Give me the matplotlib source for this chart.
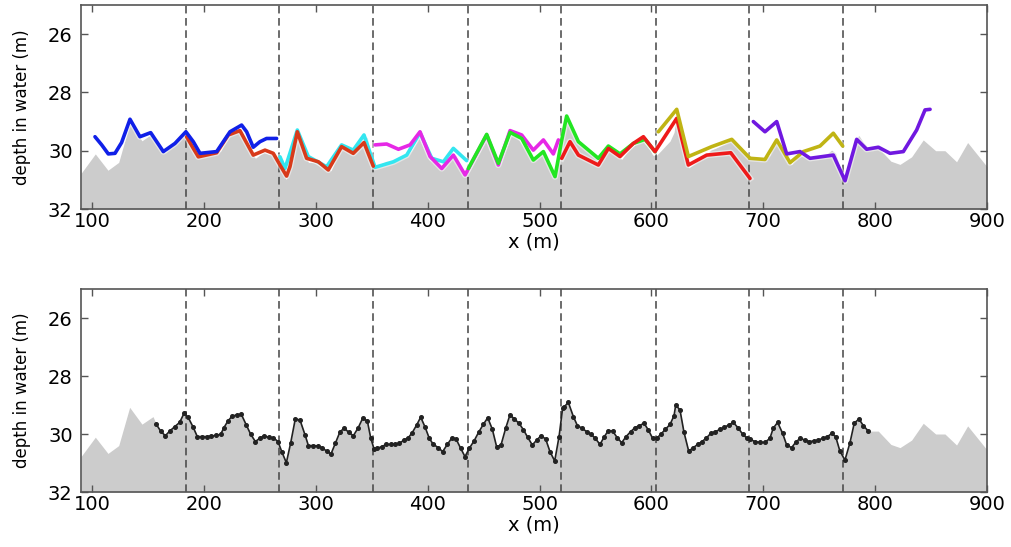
import numpy as np
import matplotlib
matplotlib.use("Agg")
import matplotlib.pyplot as plt

# seabed outside the merged profile
bed_left_x = [90, 102.8, 114.1, 123.7, 133.5, 144.5, 154.4]
bed_left_z = [30.78, 30.11, 30.67, 30.40, 29.08, 29.66, 29.40]
bed_right_x = [802.8, 814.1, 822.2, 832.6, 843.0, 854.1, 862.4, 872.8, 882.7, 898.8, 900]
bed_right_z = [29.90, 30.36, 30.47, 30.21, 29.63, 30.00, 30.00, 30.38, 29.72, 30.49, 30.55]

# merged depth profile (dots)
merged_x = [157.4, 161.2, 165.4, 169.3, 173.7, 178.2, 182.1, 185.7, 190.1, 194.0,
            198.2, 202.3, 206.5, 210.7, 214.9, 217.8, 221.4, 225.0, 229.2, 233.3,
            237.8, 241.7, 245.9, 249.7, 253.6, 257.8, 262.0, 266.1, 269.7, 273.6,
            277.4, 281.6, 285.8, 290.3, 293.3, 297.7, 301.6, 305.5, 309.6, 313.5,
            317.4, 321.6, 325.4, 329.3, 333.5, 337.9, 341.8, 346.0, 349.0, 352.0,
            354.9, 358.8, 362.7, 366.8, 370.7, 374.6, 378.8, 382.6, 386.2, 390.1,
            393.7, 397.5, 401.4, 405.0, 409.5, 413.3, 417.5, 421.7, 425.3, 429.4,
            433.3, 437.2, 441.4, 445.5, 449.7, 453.6, 457.7, 461.6, 465.5, 469.7,
            473.5, 477.4, 481.6, 485.5, 489.3, 493.5, 497.4, 501.3, 505.4, 509.3,
            513.5, 517.4, 520.6, 522.1, 525.7, 530.2, 533.8, 537.9, 542.1, 546.0,
            549.8, 554.0, 557.9, 561.5, 565.3, 569.5, 573.4, 577.3, 581.4, 585.3,
            589.2, 593.4, 597.2, 601.1, 604.7, 608.3, 612.4, 616.6, 620.2, 621.7,
            625.5, 629.1, 633.3, 637.5, 641.3, 645.2, 648.8, 653.0, 657.1, 661.3,
            665.2, 669.0, 673.2, 677.7, 681.6, 685.7, 688.1, 692.5, 697.0, 701.5,
            705.9, 708.9, 712.8, 717.3, 720.9, 725.3, 728.9, 732.8, 737.2, 741.1,
            745.3, 749.2, 753.0, 757.2, 761.1, 764.7, 768.5, 773.0, 777.5, 781.3,
            785.5, 789.4, 793.9]
merged_z = [29.67, 29.90, 30.06, 29.90, 29.75, 29.60, 29.29, 29.42, 29.75, 30.09,
            30.09, 30.09, 30.07, 30.05, 30.01, 29.78, 29.55, 29.39, 29.34, 29.32,
            29.69, 30.01, 30.26, 30.15, 30.06, 30.12, 30.13, 30.26, 30.63, 30.99,
            30.32, 29.48, 29.52, 30.03, 30.40, 30.40, 30.41, 30.47, 30.59, 30.69,
            30.32, 29.92, 29.80, 29.94, 30.06, 29.78, 29.46, 29.55, 30.13, 30.52,
            30.49, 30.44, 30.36, 30.36, 30.36, 30.32, 30.21, 30.13, 29.95, 29.69,
            29.42, 29.75, 30.15, 30.36, 30.47, 30.61, 30.36, 30.13, 30.17, 30.49,
            30.78, 30.49, 30.24, 29.94, 29.67, 29.44, 29.83, 30.44, 30.38, 29.80,
            29.34, 29.48, 29.63, 29.85, 30.11, 30.38, 30.21, 30.06, 30.17, 30.61,
            30.93, 30.09, 29.11, 29.06, 28.91, 29.40, 29.71, 29.80, 29.92, 30.01,
            30.15, 30.36, 30.09, 29.88, 29.90, 30.13, 30.30, 30.09, 29.92, 29.78,
            29.71, 29.63, 29.86, 30.15, 30.15, 30.01, 29.84, 29.67, 29.37, 29.00,
            29.17, 29.94, 30.59, 30.47, 30.36, 30.26, 30.15, 29.98, 29.92, 29.84,
            29.77, 29.69, 29.60, 29.80, 30.01, 30.15, 30.18, 30.26, 30.29, 30.29,
            30.15, 29.80, 29.60, 29.98, 30.38, 30.47, 30.29, 30.15, 30.21, 30.26,
            30.24, 30.21, 30.15, 30.10, 29.98, 30.09, 30.59, 30.90, 30.30, 29.63,
            29.48, 29.71, 29.90]

# individual track segments
seg1_x = [102.5, 108.5, 114.4, 120.4, 126.3, 133.8, 142.7, 152.3, 163.6, 174.0, 183.8,
          190.4, 196.4, 211.3, 223.2, 233.6, 238.1, 244.0, 250.0, 255.9, 264.9]
seg1_z = [29.52, 29.80, 30.11, 30.09, 29.72, 28.92, 29.52, 29.38, 30.03, 29.75, 29.35,
          29.69, 30.09, 30.03, 29.35, 29.12, 29.35, 29.88, 29.69, 29.58, 29.58]
seg2_x = [184.4, 190.4, 194.9, 211.3, 221.7, 232.1, 236.6, 244.0, 254.5, 261.9, 267.9,
          273.8, 276.8, 283.4, 291.7, 302.2, 311.1, 323.0, 333.4, 343.0, 351.3]
seg2_z = [29.52, 29.92, 30.21, 30.07, 29.46, 29.31, 29.63, 30.15, 29.98, 30.09, 30.49,
          30.87, 30.55, 29.35, 30.26, 30.38, 30.66, 29.86, 30.09, 29.72, 30.53]
seg3_x = [267.9, 272.4, 283.4, 293.2, 309.6, 323.0, 333.4, 343.0, 352.9, 369.3, 381.2,
          393.1, 403.6, 414.0, 422.9, 434.8]
seg3_z = [30.21, 30.61, 29.29, 30.20, 30.55, 29.80, 29.98, 29.46, 30.57, 30.38, 30.15,
          29.38, 30.26, 30.38, 29.92, 30.34]
seg4_x = [352.9, 363.3, 373.8, 384.2, 393.1, 402.1, 412.5, 422.9, 433.4, 452.7, 463.1,
          473.6, 484.0, 494.4, 503.4, 512.3, 516.8]
seg4_z = [29.80, 29.77, 29.95, 29.80, 29.35, 30.20, 30.61, 30.15, 30.83, 29.46, 30.49,
          29.31, 29.46, 29.98, 29.63, 30.11, 29.63]
seg5_x = [436.3, 452.7, 463.1, 473.6, 484.0, 494.4, 503.4, 513.8, 519.8, 524.2, 534.7,
          552.5, 561.5, 571.9, 583.8, 594.3, 603.2]
seg5_z = [30.61, 29.44, 30.43, 29.37, 29.58, 30.32, 30.03, 30.89, 29.63, 28.81, 29.69,
          30.26, 29.84, 30.11, 29.75, 29.61, 30.03]
seg6_x = [519.8, 527.2, 534.7, 552.5, 561.5, 571.9, 583.8, 592.8, 603.2, 622.6, 633.0,
          649.4, 670.9, 688.1]
seg6_z = [30.26, 29.69, 30.15, 30.49, 29.92, 30.20, 29.75, 29.52, 30.03, 28.89, 30.49,
          30.15, 30.07, 30.95]
seg7_x = [606.2, 622.6, 633.0, 653.9, 671.8, 688.1, 701.5, 712.0, 723.9, 735.8, 750.7,
          762.6, 771.0]
seg7_z = [29.35, 28.58, 30.20, 29.86, 29.61, 30.26, 30.30, 29.63, 30.41, 30.03, 29.84,
          29.40, 29.84]
seg8_x = [691.1, 701.5, 712.0, 720.9, 732.8, 741.8, 762.6, 773.1, 783.5, 792.4, 802.9,
          813.3, 825.2, 837.1, 844.6, 849.1]
seg8_z = [29.00, 29.35, 29.00, 30.11, 30.03, 30.26, 30.15, 31.03, 29.61, 29.95, 29.88,
          30.09, 30.03, 29.29, 28.60, 28.58]

# segment boundaries
bounds = [184, 267, 351, 436, 519, 604, 687, 771]

segments = [(seg3_x, seg3_z), (seg2_x, seg2_z), (seg1_x, seg1_z), (seg4_x, seg4_z),
            (seg5_x, seg5_z), (seg6_x, seg6_z), (seg7_x, seg7_z), (seg8_x, seg8_z)]
seg_colors = ["#33e6f0", "#d83a1a", "#1020e8", "#e628e6",
              "#22e622", "#ee1a1a", "#c0b414", "#7018e0"]

bed_x = bed_left_x + merged_x + bed_right_x
bed_z = bed_left_z + merged_z + bed_right_z

plt.rcParams['font.family'] = ['DejaVu Sans']
plt.rcParams['font.size'] = 14

fig = plt.figure(figsize=(10.11, 5.47), dpi=100)
ax1 = fig.add_axes([81/1011, 1-209/547, 906/1011, 204/547])
ax2 = fig.add_axes([81/1011, 1-492/547, 906/1011, 203/547])

for ax in (ax1, ax2):
    ax.fill_between(bed_x, bed_z, 32, color="#cccccc", lw=0, zorder=1)
    for b in bounds:
        ax.axvline(b, color="#444444", ls=(0, (5, 3)), lw=1.1, zorder=2)
    ax.set_xlim(90, 900)
    ax.set_ylim(32, 25)
    ax.set_xticks(range(100, 901, 100))
    ax.set_yticks([26, 28, 30, 32])
    ax.tick_params(direction="in", top=True, right=True, length=5,
                   width=1, color="#555555", labelsize=14)
    ax.tick_params(axis="y", pad=6)
    ax.tick_params(axis="x", pad=2)
    for s in ax.spines.values():
        s.set_color("#555555")
        s.set_linewidth(1.2)
    ax.set_xlabel("x (m)", fontsize=14, labelpad=1)
    ax.set_ylabel("depth in water (m)", fontsize=12, labelpad=12)

for (sx, sz), c in zip(segments, seg_colors):
    ax1.plot(sx, sz, color="white", lw=4.5, alpha=0.5, zorder=3, solid_joinstyle="round")
    ax1.plot(sx, sz, color=c, lw=2.6, zorder=4, solid_joinstyle="round",
             solid_capstyle="round")

ax2.plot(merged_x, merged_z, color="#222222", lw=1.2, marker="o", ms=2.6, zorder=4)

fig.savefig("out.png", dpi=100)
